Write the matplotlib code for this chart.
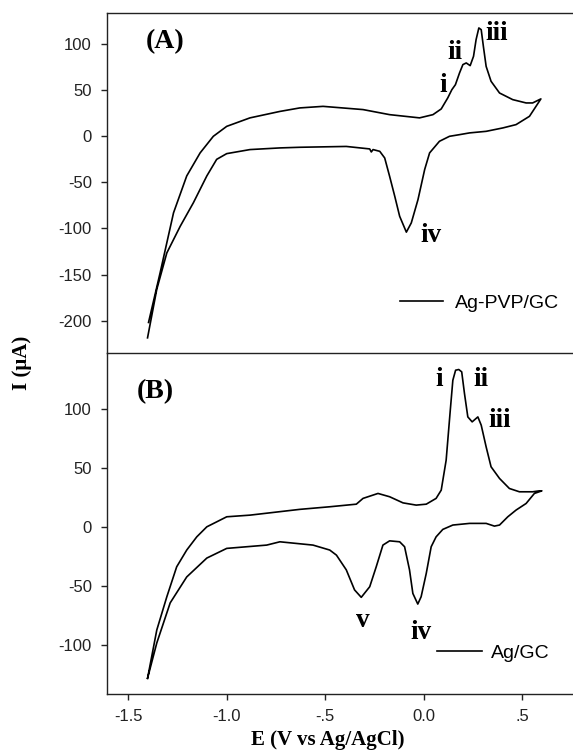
import numpy as np
import matplotlib
matplotlib.use('Agg')
import matplotlib.pyplot as plt

# ---- panel A : Ag-PVP/GC (anodic sweep then cathodic sweep) ----
a_fwd_E = [-1.397, -1.338, -1.270, -1.203, -1.135, -1.068, -1.0, -0.882, -0.730, -0.629,
           -0.511, -0.308, -0.173, -0.021, 0.047, 0.089, 0.122, 0.143, 0.161, 0.182,
           0.199, 0.216, 0.236, 0.253, 0.266, 0.280, 0.292, 0.303, 0.317, 0.342,
           0.385, 0.452, 0.520, 0.553, 0.595]
a_fwd_I = [-202, -148, -83, -43, -18, 0, 10.8, 20, 27, 30.8,
           32.5, 29, 23.5, 20, 23.5, 29.7, 41.6, 50.6, 56, 68.8,
           77.8, 79.6, 76.7, 86.8, 104.9, 117.6, 115.7, 97.6, 75.9, 59.7,
           47, 39.8, 36.2, 36.2, 40.6]
a_rev_E = [0.595, 0.537, 0.469, 0.402, 0.317, 0.233, 0.182, 0.131, 0.080, 0.030,
           0.005, -0.029, -0.063, -0.088, -0.122, -0.147, -0.173, -0.198, -0.223, -0.257,
           -0.266, -0.274, -0.393, -0.629, -0.730, -0.882, -1.0, -1.051, -1.101, -1.169,
           -1.236, -1.304, -1.355, -1.402]
a_rev_I = [40.6, 21.7, 12.7, 9.1, 5.4, 3.7, 1.8, 0, -5.4, -18,
           -36, -68.7, -94, -104, -86.8, -65, -43.4, -23.5, -16.3, -14.4,
           -17, -13.7, -11, -11.9, -12.6, -14.4, -18.8, -25, -43, -72,
           -97.6, -126.5, -166, -218.7]

# ---- panel B : Ag/GC ----
b_fwd_E = [-1.402, -1.355, -1.304, -1.254, -1.203, -1.152, -1.101, -1.051, -1.0, -0.882,
           -0.629, -0.477, -0.342, -0.308, -0.232, -0.173, -0.105, -0.038, 0.013, 0.063,
           0.089, 0.114, 0.135, 0.148, 0.162, 0.178, 0.193, 0.207, 0.224, 0.246,
           0.275, 0.292, 0.317, 0.342, 0.385, 0.435, 0.486, 0.553, 0.587, 0.600]
b_fwd_I = [-128, -87, -58.8, -33.4, -19.2, -8, 0.5, 4.7, 9, 10.4,
           15.3, 17.5, 19.7, 24.6, 28.8, 26, 20.8, 18.9, 19.7, 24.6,
           31.6, 57, 99.4, 124.8, 133.3, 133.9, 131.9, 113.6, 93.7, 89.5,
           93.7, 86.7, 68.3, 51.4, 41.5, 33, 30.2, 30.2, 31, 31]
b_rev_E = [0.600, 0.562, 0.520, 0.469, 0.427, 0.385, 0.359, 0.317, 0.233, 0.148,
           0.097, 0.063, 0.038, 0.013, -0.013, -0.030, -0.055, -0.072, -0.097, -0.122,
           -0.173, -0.207, -0.241, -0.274, -0.317, -0.351, -0.393, -0.443, -0.477, -0.562,
           -0.730, -0.797, -1.0, -1.101, -1.203, -1.287, -1.355, -1.402]
b_rev_I = [31, 28.8, 20.3, 14.7, 9, 2, 1.1, 3.4, 3.4, 2,
           -1.7, -8, -16.4, -39, -58.8, -65, -56, -36, -16.4, -12.2,
           -11.4, -15, -33.4, -50.3, -59.3, -53, -36, -23.5, -19.2, -15,
           -12.2, -15, -17.8, -26, -42, -64, -98, -128]

a_peaks = ['i', 'ii', 'iii', 'iv']
a_peak_pos = [(0.097, 55), (0.160, 91), (0.368, 112), (0.038, -108)]
b_peaks = ['i', 'ii', 'iii', 'v', 'iv']
b_peak_pos = [(0.080, 125), (0.292, 125), (0.385, 91), (-0.311, -79), (-0.012, -89)]

sans = 'Liberation Sans'
serif = 'Liberation Serif'
plt.rcParams['font.family'] = sans
plt.rcParams['axes.unicode_minus'] = False

fig = plt.figure(figsize=(5.73, 7.54), dpi=100)
axA = fig.add_axes([0.187, 0.532, 0.813, 0.451])
axB = fig.add_axes([0.187, 0.080, 0.813, 0.452])
axB.patch.set_visible(False)

axA.plot(a_fwd_E + a_rev_E, a_fwd_I + a_rev_I, color='black', lw=1.2, label='Ag-PVP/GC')
axB.plot(b_fwd_E + b_rev_E, b_fwd_I + b_rev_I, color='black', lw=1.2, label='Ag/GC')

for ax in (axA, axB):
    ax.set_xlim(-1.607, 0.758)
    ax.spines['right'].set_visible(False)
    for s in ax.spines.values():
        s.set_linewidth(1.0)
        s.set_color('#222222')
    ax.tick_params(direction='out', length=4, width=1.0, labelsize=12, pad=7, colors='#222222')

axA.set_ylim(-235, 134)
axA.set_yticks([100, 50, 0, -50, -100, -150, -200])
axA.tick_params(axis='x', bottom=False, labelbottom=False)

axB.set_ylim(-141, 148)
axB.set_yticks([100, 50, 0, -50, -100])
axB.spines['top'].set_visible(False)
axB.set_xticks([-1.5, -1.0, -0.5, 0.0, 0.5])
axB.set_xticklabels(['-1.5', '-1.0', '-.5', '0.0', '.5'])

axA.text(-1.312, 103, '(A)', family=serif, weight='bold', fontsize=20, ha='center', va='center')
axB.text(-1.363, 115, '(B)', family=serif, weight='bold', fontsize=20, ha='center', va='center')
for lab, (x, y) in zip(a_peaks, a_peak_pos):
    axA.text(x, y, lab, family=serif, weight='bold', fontsize=19.5, ha='center', va='center')
for lab, (x, y) in zip(b_peaks, b_peak_pos):
    axB.text(x, y, lab, family=serif, weight='bold', fontsize=19.5, ha='center', va='center')

axA.legend(loc='center left', bbox_to_anchor=(0.629, 0.147), frameon=False, fontsize=14,
           handlelength=2.2, handletextpad=0.6, borderpad=0, borderaxespad=0)
axB.legend(loc='center left', bbox_to_anchor=(0.708, 0.120), frameon=False, fontsize=14,
           handlelength=2.3, handletextpad=0.5, borderpad=0, borderaxespad=0)

fig.text(0.038, 0.519, 'I (\u03bcA)', family=serif, weight='bold', fontsize=15,
         rotation=90, ha='center', va='center')
fig.text(0.572, 0.019, 'E (V vs Ag/AgCl)', family=serif, weight='bold', fontsize=15,
         ha='center', va='center')

fig.savefig('out.png', dpi=100)
